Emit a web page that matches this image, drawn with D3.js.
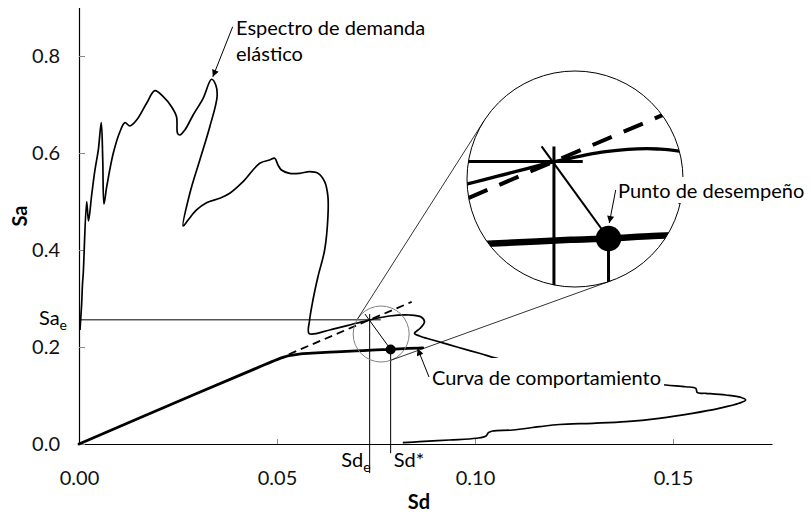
<!DOCTYPE html>
<html>
<head>
<meta charset="utf-8">
<script src="https://cdn.jsdelivr.net/npm/d3@7"></script>
<style>
  html, body { margin: 0; padding: 0; background: #fff; }
  svg { display: block; font-family: Lato, "Open Sans", sans-serif; }
</style>
</head>
<body>
<svg id="chart" width="811" height="512"></svg>
<script>
// espectro de demanda elastico (Sd, Sa)
const spectrumSd = [0.00025, 0.00068, 0.00088, 0.00108, 0.00194, 0.0024, 0.0032, 0.00403, 0.00487, 0.00562,
  0.006, 0.0063, 0.007, 0.00865, 0.01034, 0.0116, 0.01286, 0.01455, 0.01707, 0.01916,
  0.02126, 0.02337, 0.02463, 0.02489, 0.02547, 0.02673, 0.02882, 0.03134, 0.03346, 0.03454,
  0.03487, 0.03303, 0.03051, 0.02799, 0.0263, 0.02756, 0.02968, 0.0322, 0.03555, 0.03807,
  0.04143, 0.04564, 0.04816, 0.04942, 0.05025, 0.05111, 0.0532, 0.05572, 0.05824, 0.06034,
  0.06203, 0.06286, 0.06286, 0.06203, 0.06034, 0.05908, 0.05824, 0.05812, 0.06329, 0.07002,
  0.07337, 0.07842, 0.08346, 0.08641, 0.08724, 0.08623, 0.08472, 0.08598, 0.08933, 0.09523,
  0.10111, 0.10699, 0.11624, 0.12632, 0.13641, 0.14818, 0.15322, 0.15575, 0.15615, 0.15827,
  0.16331, 0.16709, 0.16835, 0.16667, 0.16162, 0.15489, 0.1465, 0.1381, 0.12968, 0.12128,
  0.11624, 0.10951, 0.10446, 0.10338, 0.1028, 0.10028, 0.09355, 0.08598, 0.08177];
const spectrumSa = [0.235, 0.2907, 0.33, 0.3526, 0.4996, 0.4598, 0.5134, 0.565, 0.606, 0.6625,
  0.5856, 0.4948, 0.5305, 0.5994, 0.6439, 0.6625, 0.6557, 0.668, 0.7025, 0.7285,
  0.7161, 0.6955, 0.6748, 0.6406, 0.6371, 0.6474, 0.6784, 0.7128, 0.752, 0.7402,
  0.7161, 0.6542, 0.5856, 0.5169, 0.4495, 0.4619, 0.4825, 0.4975, 0.5066, 0.5169,
  0.5408, 0.5788, 0.5856, 0.5891, 0.5753, 0.565, 0.5581, 0.5581, 0.5614, 0.5581,
  0.5408, 0.5099, 0.4687, 0.4, 0.3449, 0.2969, 0.2557, 0.2278, 0.235, 0.2489,
  0.2557, 0.2639, 0.266, 0.2619, 0.2522, 0.2392, 0.2282, 0.2227, 0.2144, 0.2006,
  0.187, 0.1732, 0.1588, 0.1443, 0.132, 0.1216, 0.1181, 0.1148, 0.1058, 0.1045,
  0.101, 0.0963, 0.0907, 0.0839, 0.0736, 0.0633, 0.053, 0.046, 0.0427, 0.0402,
  0.0357, 0.0289, 0.0268, 0.0233, 0.0165, 0.0118, 0.0082, 0.0047, 0.0027];

// curva de comportamiento (capacidad)
const capacitySd = [0, 0.03, 0.045, 0.05, 0.053, 0.056, 0.06, 0.065, 0.07, 0.075, 0.0787, 0.083, 0.0868];
const capacitySa = [0, 0.105, 0.157, 0.174, 0.182, 0.186, 0.188, 0.190, 0.192, 0.194, 0.195, 0.197, 0.198];

// prolongacion de la rigidez elastica (linea discontinua)
const elasticSd = [0.053, 0.084];
const elasticSa = [0.185, 0.293];

// puntos caracteristicos
const sdE = 0.0734, saE = 0.256;
const sdStar = 0.0787, saStar = 0.195;
const crossStart = [0.0722, 0.268];
const lensCenter = [0.0763, 0.2268];

const xTicks = [0, 0.05, 0.10, 0.15];
const yTicks = [0, 0.2, 0.4, 0.6, 0.8];

const width = 811, height = 512;
const svg = d3.select("#chart");

const x = d3.scaleLinear().domain([0, 0.175]).range([79, 772]);
const y = d3.scaleLinear().domain([0, 0.9]).range([444, 7.5]);

const fontSize = 20;
const tickGray = "#888";

// arrow head
svg.append("defs").append("marker")
  .attr("id", "arrow")
  .attr("viewBox", "0 0 10 10")
  .attr("refX", 10).attr("refY", 5)
  .attr("markerWidth", 9).attr("markerHeight", 7)
  .attr("markerUnits", "userSpaceOnUse")
  .attr("orient", "auto")
  .append("path").attr("d", "M0,0L10,5L0,10z").attr("fill", "#000");

svg.select("defs").append("clipPath").attr("id", "lens")
  .append("circle").attr("cx", 575).attr("cy", 179).attr("r", 108);

// axes
const xAxis = d3.axisBottom(x).tickValues(xTicks).tickFormat(d3.format(".2f"))
  .tickSizeInner(-5).tickSizeOuter(0).tickPadding(27);
const yAxis = d3.axisLeft(y).tickValues(yTicks).tickFormat(d3.format(".1f"))
  .tickSizeInner(-6).tickSizeOuter(0).tickPadding(19);

svg.append("g").attr("transform", `translate(0,${y(0)})`).call(xAxis)
  .call(g => g.select(".domain").attr("stroke", "#000").attr("stroke-width", 1.2))
  .call(g => g.selectAll(".tick line").attr("stroke", tickGray))
  .call(g => g.selectAll(".tick text").attr("font-size", fontSize).attr("fill", "#111")
    .attr("font-family", "Lato"));

svg.append("g").attr("transform", `translate(${x(0)},0)`).call(yAxis)
  .call(g => g.select(".domain").attr("stroke", "#000").attr("stroke-width", 1.2))
  .call(g => g.selectAll(".tick line").attr("stroke", tickGray))
  .call(g => g.selectAll(".tick text").attr("font-size", fontSize).attr("fill", "#111")
    .attr("font-family", "Lato"));

svg.append("text").attr("x", 419).attr("y", 509).attr("text-anchor", "middle")
  .attr("font-size", fontSize).attr("font-weight", "bold").text("Sd");
svg.append("text").attr("transform", "translate(27,216) rotate(-90)").attr("text-anchor", "middle")
  .attr("font-size", fontSize).attr("font-weight", "bold").text("Sa");

const spectrum = spectrumSd.map((d, i) => [d, spectrumSa[i]]);
const capacity = capacitySd.map((d, i) => [d, capacitySa[i]]);
const elastic = elasticSd.map((d, i) => [d, elasticSa[i]]);

const line = d3.line().x(d => x(d[0])).y(d => y(d[1]));
const smooth = d3.line().x(d => x(d[0])).y(d => y(d[1])).curve(d3.curveCatmullRom.alpha(0.5));

// draws the whole construction; used for the chart and for the magnified lens
function drawScene(g, w) {
  g.append("line").attr("x1", x(0)).attr("x2", x(0.0762)).attr("y1", y(saE)).attr("y2", y(saE))
    .attr("stroke", "#000").attr("stroke-width", w.ref);
  g.append("line").attr("x1", x(sdE)).attr("x2", x(sdE)).attr("y1", y(crossStart[1])).attr("y2", y(-0.06))
    .attr("stroke", "#000").attr("stroke-width", w.ref);
  g.append("line").attr("x1", x(sdStar)).attr("x2", x(sdStar)).attr("y1", y(saStar)).attr("y2", y(-0.019))
    .attr("stroke", "#000").attr("stroke-width", w.ref);
  g.append("line").attr("x1", x(crossStart[0])).attr("y1", y(crossStart[1]))
    .attr("x2", x(sdStar)).attr("y2", y(saStar))
    .attr("stroke", "#000").attr("stroke-width", w.diag);
  g.append("path").attr("d", smooth(spectrum)).attr("fill", "none")
    .attr("stroke", "#000").attr("stroke-width", w.spec).attr("stroke-linejoin", "round");
  g.append("path").attr("d", line(elastic)).attr("fill", "none")
    .attr("stroke", "#000").attr("stroke-width", w.dash).attr("stroke-dasharray", "8,5");
  g.append("path").attr("d", smooth(capacity)).attr("fill", "none")
    .attr("stroke", "#000").attr("stroke-width", w.cap).attr("stroke-linecap", "round");
  g.append("circle").attr("cx", x(sdStar)).attr("cy", y(saStar)).attr("r", w.dot).attr("fill", "#000");
}

drawScene(svg.append("g"), { ref: 1, diag: 1, spec: 1.7, dash: 1.8, cap: 2.8, dot: 5 });

// small lens circle and connectors to the magnified view
const c1 = [x(lensCenter[0]), y(lensCenter[1])], r1 = 28;
const c2 = [575, 179], r2 = 108;
const k = 2.6, lensAnchor = [583.8, 198.4];

function outerTangents(a, ra, b, rb) {
  const dx = b[0] - a[0], dy = b[1] - a[1], d = Math.hypot(dx, dy);
  const ux = dx / d, uy = dy / d, c = (rb - ra) / d, s = Math.sqrt(1 - c * c);
  return [1, -1].map(sg => {
    const nx = ux * c - sg * uy * s, ny = uy * c + sg * ux * s;
    return [[a[0] - ra * nx, a[1] - ra * ny], [b[0] - rb * nx, b[1] - rb * ny]];
  });
}

svg.append("circle").attr("cx", c1[0]).attr("cy", c1[1]).attr("r", r1)
  .attr("fill", "none").attr("stroke", "#808080").attr("stroke-width", 1);

outerTangents(c1, r1, c2, r2).forEach(t => {
  svg.append("line").attr("x1", t[0][0]).attr("y1", t[0][1]).attr("x2", t[1][0]).attr("y2", t[1][1])
    .attr("stroke", "#000").attr("stroke-width", 0.8);
});

svg.append("circle").attr("cx", c2[0]).attr("cy", c2[1]).attr("r", r2).attr("fill", "#fff");
const lens = svg.append("g").attr("clip-path", "url(#lens)")
  .append("g").attr("transform", `translate(${lensAnchor[0] - k * c1[0]},${lensAnchor[1] - k * c1[1]}) scale(${k})`);
drawScene(lens, { ref: 1.15, diag: 0.8, spec: 1.3, dash: 1.55, cap: 2.5, dot: 4.9 });
svg.append("circle").attr("cx", c2[0]).attr("cy", c2[1]).attr("r", r2)
  .attr("fill", "none").attr("stroke", "#000").attr("stroke-width", 1);

// labels for the characteristic values
svg.append("text").attr("x", x(0) - 12).attr("y", y(saE) + 5).attr("text-anchor", "end")
  .attr("font-size", fontSize)
  .call(t => t.append("tspan").text("Sa"))
  .call(t => t.append("tspan").attr("font-size", 14).attr("dy", 5).text("e"));
svg.append("text").attr("x", x(sdE) + 1).attr("y", 467).attr("text-anchor", "end")
  .attr("font-size", fontSize)
  .call(t => t.append("tspan").text("Sd"))
  .call(t => t.append("tspan").attr("font-size", 14).attr("dy", 5).text("e"));
svg.append("text").attr("x", x(sdStar) + 3).attr("y", 467)
  .attr("font-size", fontSize).text("Sd*");

// annotations with a white box behind the text
function note(lines, tx, ty, from, to, padTop) {
  const g = svg.append("g");
  const box = g.append("rect").attr("fill", "#fff");
  const t = g.append("text").attr("x", tx).attr("y", ty).attr("font-size", fontSize);
  lines.forEach((s, i) => t.append("tspan").attr("x", tx).attr("dy", i ? 26 : 0).text(s));
  if (padTop != null) {
    const b = t.node().getBBox();
    box.attr("x", b.x - 3).attr("y", b.y - padTop)
      .attr("width", b.width + 6).attr("height", b.height + padTop + 1);
  } else box.remove();
  svg.append("line").attr("x1", from[0]).attr("y1", from[1]).attr("x2", to[0]).attr("y2", to[1])
    .attr("stroke", "#000").attr("stroke-width", 1).attr("marker-end", "url(#arrow)");
}

note(["Espectro de demanda", "elástico"], 236, 35, [232.7, 26.7], [x(0.0338), y(0.757)], null);
note(["Curva de comportamiento"], 432, 385, [429, 377], [x(0.0855), y(0.197)], 7);
note(["Punto de desempeño"], 618, 198, [615.7, 190], [609.3, 223], 1);
</script>
</body>
</html>
